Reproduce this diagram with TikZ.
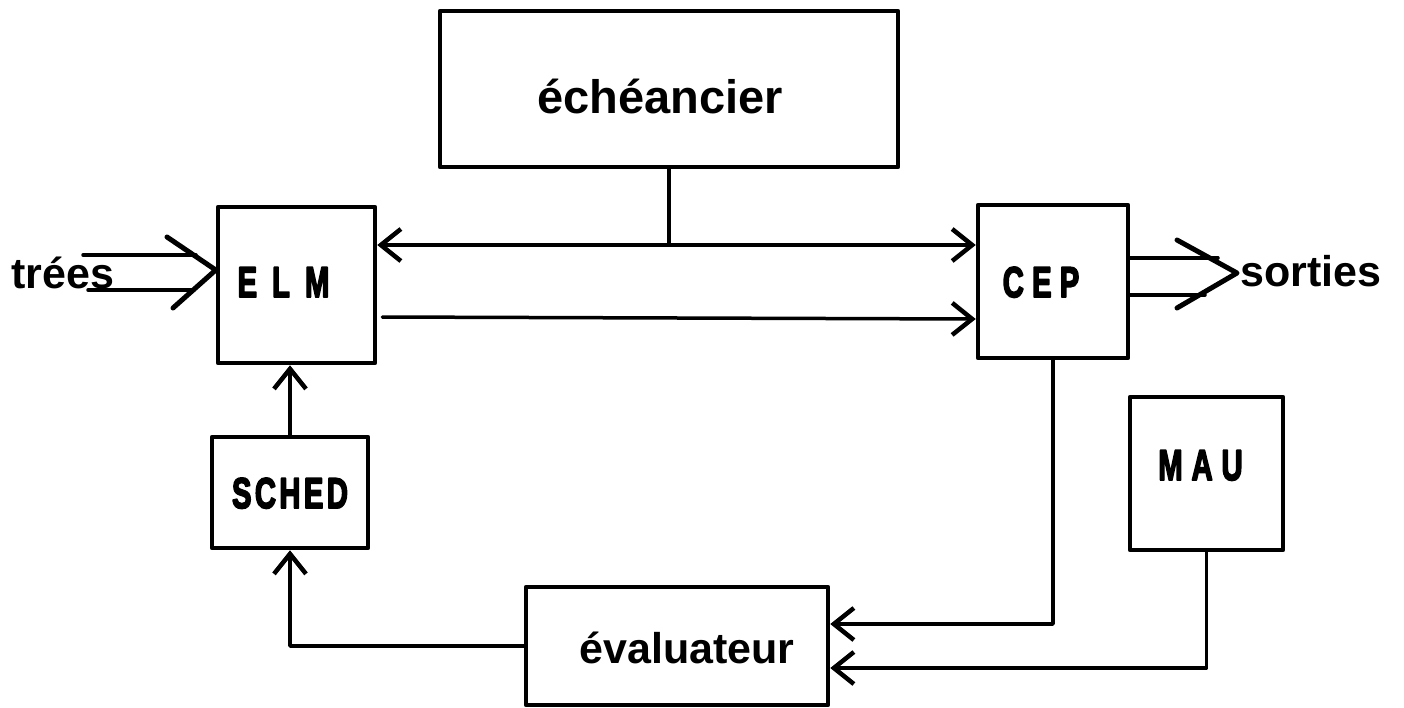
\documentclass[tikz,border=0pt]{standalone}
\usepackage{fontspec}
\usepackage{graphicx}
\setmainfont{Liberation Sans}
\newfontfamily\heavyfont[FakeBold=4.5]{Liberation Sans}
\usetikzlibrary{arrows.meta}
\newcommand{\condtext}[1]{\scalebox{0.68}[1]{#1}}
\newcommand{\offs}[3]{\raisebox{#2}[0pt][0pt]{\makebox[0pt]{\hspace*{#1}#3\hspace*{-#1}}}}
\begin{document}
\begin{tikzpicture}[x=1pt,y=-1pt,
  box/.style={draw, line width=4.5pt, inner sep=0pt, line join=round, align=center},
  conn/.style={line width=3.5pt, line cap=round, line join=round},
  chev/.style={line width=5pt, line cap=round, line join=round},
  hb/.tip={Straight Barb[length=20pt,width=32pt,line width=4.5pt]},
  lbl/.style={font=\fontsize{43}{43}\selectfont\bfseries},
  cnd/.style={font=\fontsize{43}{43}\heavyfont\bfseries}
]
\useasboundingbox (0,0) rectangle (1404,707);

% boxes
\node[box, font=\fontsize{47}{47}\selectfont\bfseries, minimum width=458pt, minimum height=156pt] (ech) at (669,89) {\offs{-9pt}{-24pt}{échéancier}};
\node[box, cnd, minimum width=157pt, minimum height=156pt] (ELM) at (296.5,285) {\offs{-13pt}{-12pt}{\condtext{E\hspace{22pt}L\hspace{22pt}M}}};
\node[box, cnd, minimum width=150pt, minimum height=153pt] (CEP) at (1053,281.5) {\offs{-12pt}{-15.5pt}{\condtext{C\hspace{12pt}E\hspace{12pt}P}}};
\node[box, cnd, minimum width=156pt, minimum height=111pt] (SCHED) at (290,492.5) {\offs{0pt}{-15.5pt}{\condtext{S\hspace{5pt}C\hspace{5pt}H\hspace{5pt}E\hspace{5pt}D}}};
\node[box, cnd, minimum width=153pt, minimum height=153pt] (MAU) at (1206.5,473.5) {\offs{-6pt}{-6.5pt}{\condtext{M\hspace{13pt}A\hspace{13pt}U}}};
\node[box, lbl, minimum width=302pt, minimum height=118pt] (eval) at (677,646) {\offs{10pt}{-17pt}{évaluateur}};

% labels
\node[lbl, inner sep=0pt] (entrees) at (63,273) {trées};
\node[lbl, inner sep=0pt, anchor=west] (sorties) at (1240,271) {sorties};

% echeancier to the bus
\draw[conn] (ech.south) -- (ech.south |- 0,245);
\draw[conn, hb-hb] (ELM.east |- 0,245) -- (CEP.west |- 0,245);
\draw[conn, -hb] ([xshift=5pt]ELM.east |- 0,317) -- (CEP.west |- 0,319);

% SCHED -> ELM
\draw[conn, -hb] (SCHED.north) -- (SCHED.north |- ELM.south);
% evaluateur -> SCHED
\draw[conn, -hb] (eval.west) -| (SCHED.south);
% CEP -> evaluateur
\draw[conn, -hb] (CEP.south) |- (eval.east |- 0,624);
% MAU -> evaluateur
\draw[conn, -hb] (MAU.south) |- (eval.east |- 0,668);

% inputs
\coordinate (inA) at (83,255);
\coordinate (inB) at (88,290);
\coordinate (inAe) at (196,255);
\coordinate (inBe) at (194,290);
\coordinate (chA1) at (167,237);
\coordinate (chA2) at (173,308);
\coordinate (chtip) at (ELM.west |- 0,270);
\draw[conn] (inA) -- (inAe);
\draw[conn] (inB) -- (inBe);
\draw[chev] (chA1) -- (chtip) -- (chA2);

% outputs
\coordinate (outAe) at (1218,258);
\coordinate (outBe) at (1205,295);
\coordinate (ouA1) at (1177,240);
\coordinate (ouA2) at (1177,308);
\coordinate (outtip) at (1237,273);
\draw[conn] (CEP.east |- 0,258) -- (outAe);
\draw[conn] (CEP.east |- 0,295) -- (outBe);
\draw[chev] (ouA1) -- (outtip) -- (ouA2);
\end{tikzpicture}
\end{document}
